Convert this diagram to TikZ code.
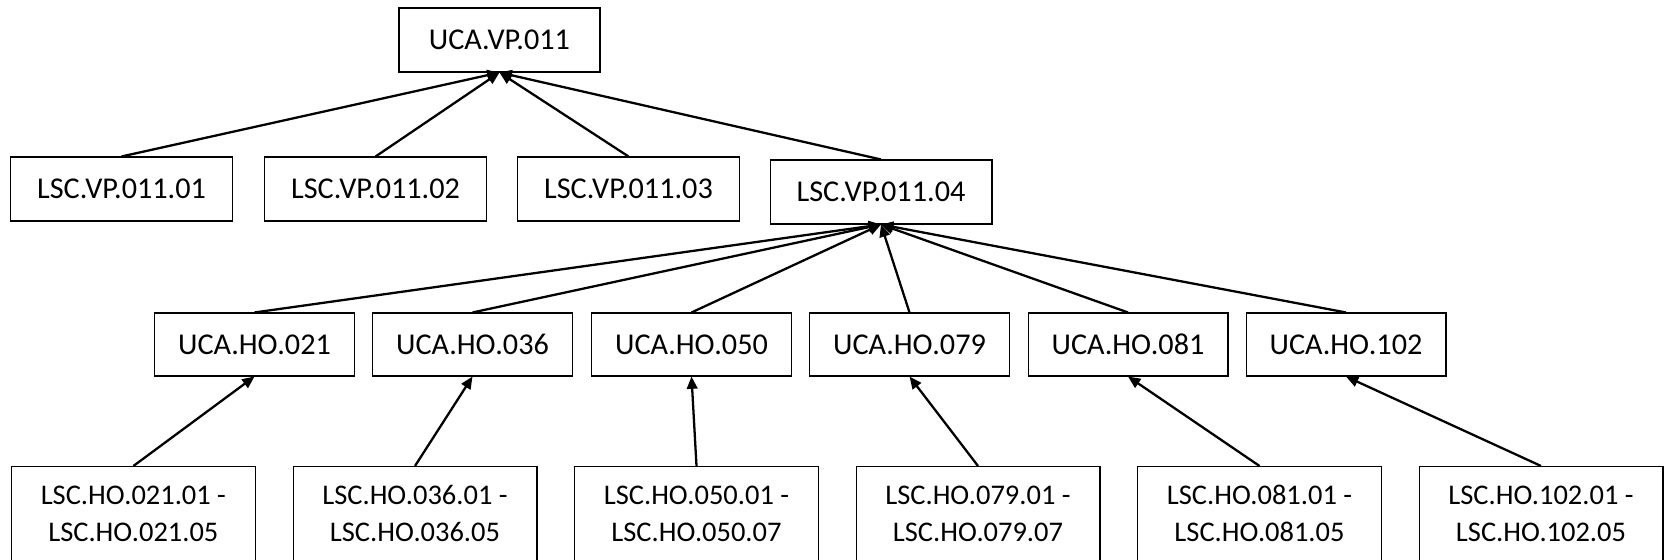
\documentclass[tikz,border=0pt]{standalone}
\usepackage{fontspec}
\setmainfont{Carlito}
\usetikzlibrary{arrows.meta}
\tikzset{
  box/.style={draw=black, line width=0.6pt, rectangle, inner sep=0pt, align=center,
    font=\fontsize{17.2pt}{20pt}\selectfont},
  topbox/.style={box, minimum width=4.02cm, minimum height=1.28cm},
  lscbox/.style={box, minimum width=4.44cm, minimum height=1.28cm},
  ucabox/.style={box, minimum width=4.0cm, minimum height=1.26cm},
  rangebox/.style={box, minimum width=4.88cm, minimum height=1.88cm,
    font=\fontsize{16.2pt}{21pt}\selectfont},
  link/.style={line width=1.3pt, -{Triangle[length=7pt, width=6pt]}}
}
\begin{document}
\begin{tikzpicture}[x=0.02cm, y=-0.02cm]
\useasboundingbox (0,0) rectangle (1666,560); % page
\node[topbox] (vp) at (499.5,40) {UCA.VP.011}; % top
\node[lscbox] (vp01) at (121.6,189) {LSC.VP.011.01};
\node[lscbox] (vp02) at (375.6,189) {LSC.VP.011.02};
\node[lscbox] (vp03) at (628.5,189) {LSC.VP.011.03};
\node[lscbox] (vp04) at (881,192) {LSC.VP.011.04};

\node[ucabox] (ho021) at (254.5,344.5) {UCA.HO.021}; % third row
\node[ucabox] (ho036) at (472.5,344.5) {UCA.HO.036};
\node[ucabox] (ho050) at (691.5,344.5) {UCA.HO.050};
\node[ucabox] (ho079) at (909.5,344.5) {UCA.HO.079};
\node[ucabox] (ho081) at (1128,344.5) {UCA.HO.081};
\node[ucabox] (ho102) at (1346,344.5) {UCA.HO.102};

\node[rangebox] (r021) at (133.4,513.5) {LSC.HO.021.01 -\\LSC.HO.021.05}; % bottom row
\node[rangebox] (r036) at (415,513.5) {LSC.HO.036.01 -\\LSC.HO.036.05};
\node[rangebox] (r050) at (696.5,513.5) {LSC.HO.050.01 -\\LSC.HO.050.07};
\node[rangebox] (r079) at (978,513.5) {LSC.HO.079.01 -\\LSC.HO.079.07};
\node[rangebox] (r081) at (1259.5,513.5) {LSC.HO.081.01 -\\LSC.HO.081.05};
\node[rangebox] (r102) at (1541,513.5) {LSC.HO.102.01 -\\LSC.HO.102.05};

\draw[link] (vp01.north) -- (vp.south); % up to top
\draw[link] (vp02.north) -- (vp.south);
\draw[link] (vp03.north) -- (vp.south);
\draw[link] (vp04.north) -- (vp.south);

\draw[link] (ho021.north) -- (vp04.south); % up to LSC.VP.011.04
\draw[link] (ho036.north) -- (vp04.south);
\draw[link] (ho050.north) -- (vp04.south);
\draw[link] (ho079.north) -- (vp04.south);
\draw[link] (ho081.north) -- (vp04.south);
\draw[link] (ho102.north) -- (vp04.south);

\draw[link] (r021.north) -- (ho021.south); % ranges
\draw[link] (r036.north) -- (ho036.south);
\draw[link] (r050.north) -- (ho050.south);
\draw[link] (r079.north) -- (ho079.south);
\draw[link] (r081.north) -- (ho081.south);
\draw[link] (r102.north) -- (ho102.south);

\end{tikzpicture}
\end{document}
